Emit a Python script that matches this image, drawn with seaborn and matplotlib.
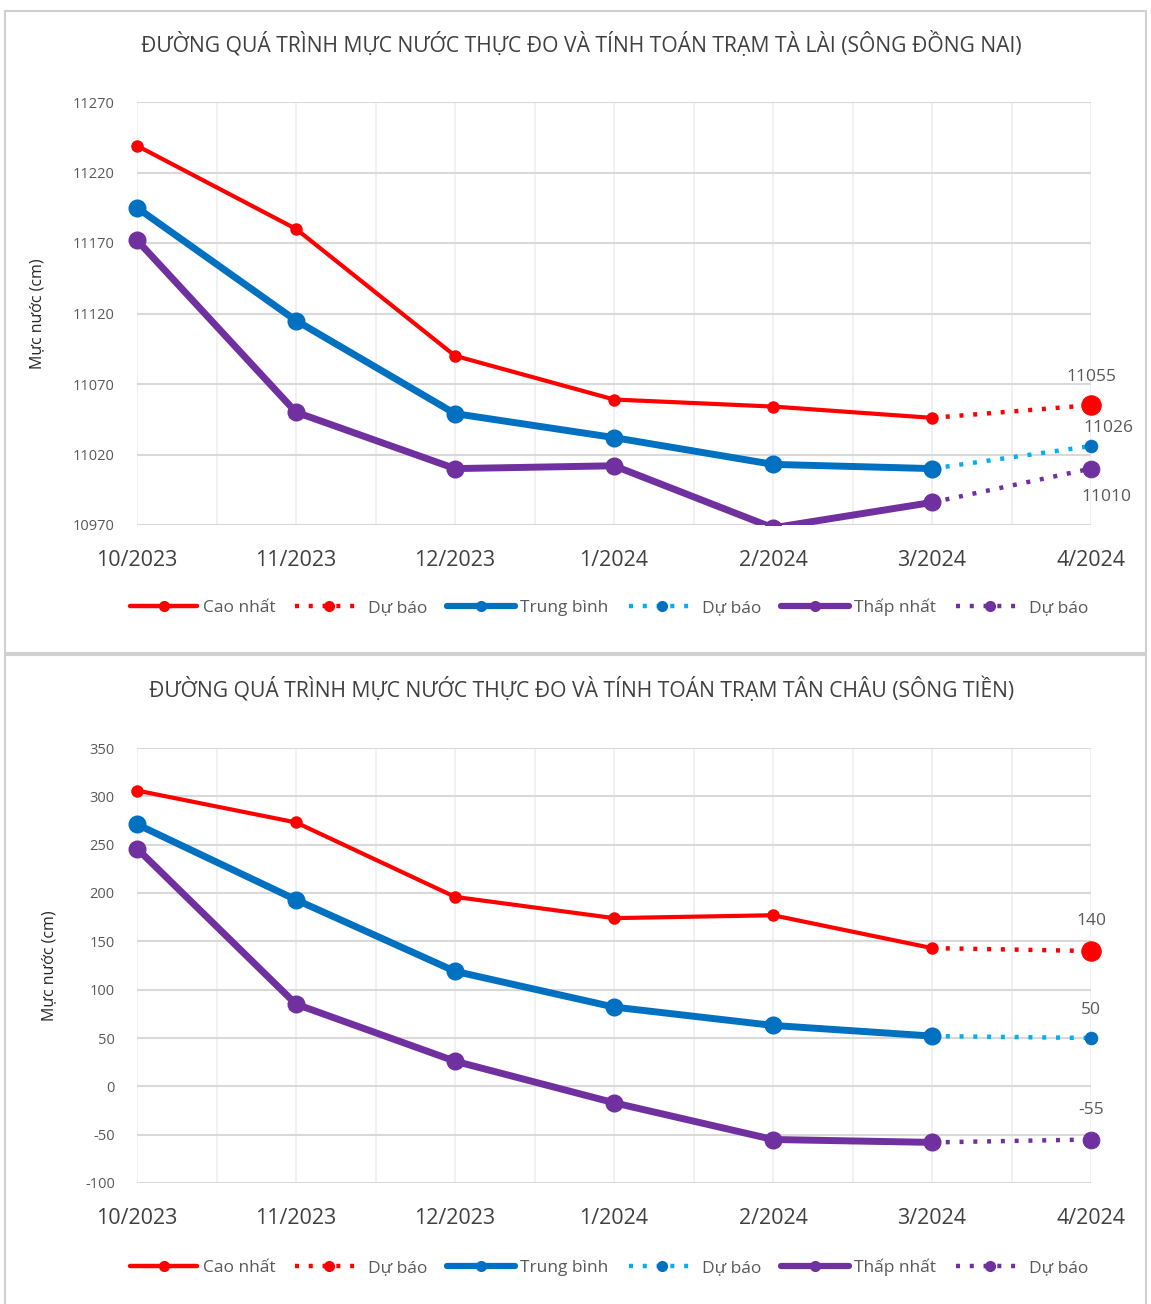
import matplotlib
matplotlib.use("Agg")
import matplotlib.pyplot as plt
from matplotlib.lines import Line2D
from matplotlib.patches import Rectangle
from matplotlib.transforms import Bbox, TransformedBbox
import numpy as np
import pandas as pd
import seaborn as sns

# ---- data -------------------------------------------------------------
months = ["10/2023", "11/2023", "12/2023", "1/2024", "2/2024", "3/2024", "4/2024"]

# Tà Lài (Đồng Nai river), observed Oct 2023 - Mar 2024
talai_max = [11239, 11180, 11090, 11059, 11054, 11046]
talai_mean = [11195, 11115, 11049, 11032, 11013, 11010]
talai_min = [11172, 11050, 11010, 11012, 10968, 10986]
# Tà Lài forecast for 4/2024
talai_fc_max = 11055
talai_fc_mean = 11026
talai_fc_min = 11010

# Tân Châu (Tiền river), observed Oct 2023 - Mar 2024
tanchau_max = [306, 273, 196, 174, 177, 143]
tanchau_mean = [271, 193, 119, 82, 63, 52]
tanchau_min = [246, 85, 26, -17, -55, -58]
# Tân Châu forecast for 4/2024
tanchau_fc_max = 140
tanchau_fc_mean = 50
tanchau_fc_min = -55

titles = [
    "ĐƯỜNG QUÁ TRÌNH MỰC NƯỚC THỰC ĐO VÀ TÍNH TOÁN TRẠM TÀ LÀI (SÔNG ĐỒNG NAI)",
    "ĐƯỜNG QUÁ TRÌNH MỰC NƯỚC THỰC ĐO VÀ TÍNH TOÁN TRẠM TÂN CHÂU (SÔNG TIỀN)",
]
ylabel = "Mực nước (cm)"
legend_labels = ["Cao nhất", "Dự báo", "Trung bình", "Dự báo", "Thấp nhất", "Dự báo"]

# ---- styling ----------------------------------------------------------
sns.set_theme(style="white")
plt.rcParams["font.family"] = ["Open Sans", "DejaVu Sans"]
plt.rcParams["axes.unicode_minus"] = False

RED = "#FF0000"
BLUE = "#0070C0"
CYAN = "#00B0F0"
PURPLE = "#7030A0"
GRID = "#d9d9d9"
TEXT = "#595959"
DARK = "#404040"

fig = plt.figure(figsize=(11.51, 13.04), dpi=100)

# panel frames
fig.patches.append(Rectangle((5 / 1151, 1 - 653 / 1304), (1146 - 5) / 1151, (653 - 11) / 1304,
                             transform=fig.transFigure, fill=False, ec="#d0d0d0", lw=1.5))
fig.patches.append(Rectangle((5 / 1151, -0.01), (1146 - 5) / 1151, 1 - 655 / 1304 + 0.01,
                             transform=fig.transFigure, fill=False, ec="#d0d0d0", lw=1.5))

left, right = 137 / 1151, 1091 / 1151
ax_top = fig.add_axes([left, 1 - 525 / 1304, right - left, (525 - 102) / 1304])
ax_bot = fig.add_axes([left, 1 - 1183 / 1304, right - left, (1183 - 748) / 1304])

styles = {
    "max": dict(color=RED, lw=3, ms=9, fc_color=RED, fc_lw=3.2, fc_ms=14),
    "mean": dict(color=BLUE, lw=5, ms=13, fc_color=CYAN, fc_lw=3.2, fc_ms=9),
    "min": dict(color=PURPLE, lw=5, ms=13, fc_color=PURPLE, fc_lw=3.2, fc_ms=12),
}
DOT = (0, (0.9, 2.2))


def draw_panel(ax, series, forecasts, ylim, yticks, labels_pos, title, title_y):
    x_obs = np.arange(len(series["max"]))
    for key in ["max", "mean", "min"]:
        st = styles[key]
        df = pd.DataFrame({"x": x_obs, "y": series[key]})
        # forecast segment: last observed point to the forecast month
        fdf = pd.DataFrame({"x": [x_obs[-1], x_obs[-1] + 1],
                            "y": [series[key][-1], forecasts[key]]})
        marker_c = st["color"]
        sns.lineplot(data=fdf, x="x", y="y", ax=ax, color=st["fc_color"], lw=st["fc_lw"],
                     linestyle=DOT, marker="o", markevery=[1], markersize=st["fc_ms"],
                     markerfacecolor=marker_c, markeredgecolor=marker_c, zorder=3)
        sns.lineplot(data=df, x="x", y="y", ax=ax, color=st["color"], lw=st["lw"],
                     marker="o", markersize=st["ms"], markeredgewidth=0, zorder=4)

    # clip lines vertically to the plot area, but let edge markers show fully
    clip = TransformedBbox(Bbox([[-0.03, 0.0], [1.03, 1.0]]), ax.transAxes)
    for ln in ax.get_lines():
        ln.set_clip_box(clip)

    ax.set_xlim(0, len(months) - 1)
    ax.set_ylim(*ylim)
    ax.set_yticks(yticks)
    ax.set_xticks(np.arange(len(months)))
    ax.set_xticks(np.arange(0.5, len(months) - 1, 1.0), minor=True)
    ax.set_xticklabels(months, fontsize=15.5, color=DARK)
    ax.tick_params(axis="x", which="both", length=0, pad=18)
    ax.tick_params(axis="y", length=0, labelsize=10.5, labelcolor=TEXT, pad=16)
    ax.grid(axis="y", color=GRID, lw=1.5)
    ax.grid(axis="x", which="both", color="#efefef", lw=1.2)
    ax.set_axisbelow(True)
    for sp in ax.spines.values():
        sp.set_visible(False)
    ax.set_xlabel("")
    ax.set_ylabel(ylabel, fontsize=11.5, color="#262626", labelpad=20)
    if ax.get_legend():
        ax.get_legend().remove()

    # value labels on the forecast points
    xf = len(months) - 1
    for key, (dx, dy, va) in labels_pos.items():
        ax.annotate(f"{forecasts[key]}", xy=(xf, forecasts[key]), xytext=(dx, dy),
                    textcoords="offset pixels", ha="center", va=va,
                    fontsize=12.5, color=TEXT, annotation_clip=False)

    fig.text(0.505, 1 - title_y / 1304, title, ha="center", va="center",
             fontsize=15.2, color=DARK)

    handles = [
        Line2D([], [], color=RED, lw=3.2, marker="o", ms=7),
        Line2D([], [], color=RED, lw=3.2, ls=DOT, marker="o", ms=7),
        Line2D([], [], color=BLUE, lw=4.5, marker="o", ms=7),
        Line2D([], [], color=CYAN, lw=3.2, ls=DOT, marker="o", ms=7,
               markerfacecolor=BLUE, markeredgecolor=BLUE),
        Line2D([], [], color=PURPLE, lw=4.5, marker="o", ms=7),
        Line2D([], [], color=PURPLE, lw=3.2, ls=DOT, marker="o", ms=7),
    ]
    return handles


h = draw_panel(ax_top,
               {"max": talai_max, "mean": talai_mean, "min": talai_min},
               {"max": talai_fc_max, "mean": talai_fc_mean, "min": talai_fc_min},
               (10970, 11270), np.arange(10970, 11271, 50),
               {"max": (0, 20, "bottom"), "mean": (17, 10, "bottom"), "min": (15, -20, "top")},
               titles[0], 44)
draw_panel(ax_bot,
           {"max": tanchau_max, "mean": tanchau_mean, "min": tanchau_min},
           {"max": tanchau_fc_max, "mean": tanchau_fc_mean, "min": tanchau_fc_min},
           (-100, 350), np.arange(-100, 351, 50),
           {"max": (0, 22, "bottom"), "mean": (0, 20, "bottom"), "min": (0, 21, "bottom")},
           titles[1], 689)

for y_px in (607, 1267):
    fig.legend(h, legend_labels, loc="center", bbox_to_anchor=(0.529, 1 - y_px / 1304),
               ncol=6, frameon=False, labelcolor=TEXT,
               handlelength=3.9, handletextpad=0.3, columnspacing=1.15,
               prop={"size": 12.5})

fig.savefig("out.png", dpi=100, facecolor="white")
